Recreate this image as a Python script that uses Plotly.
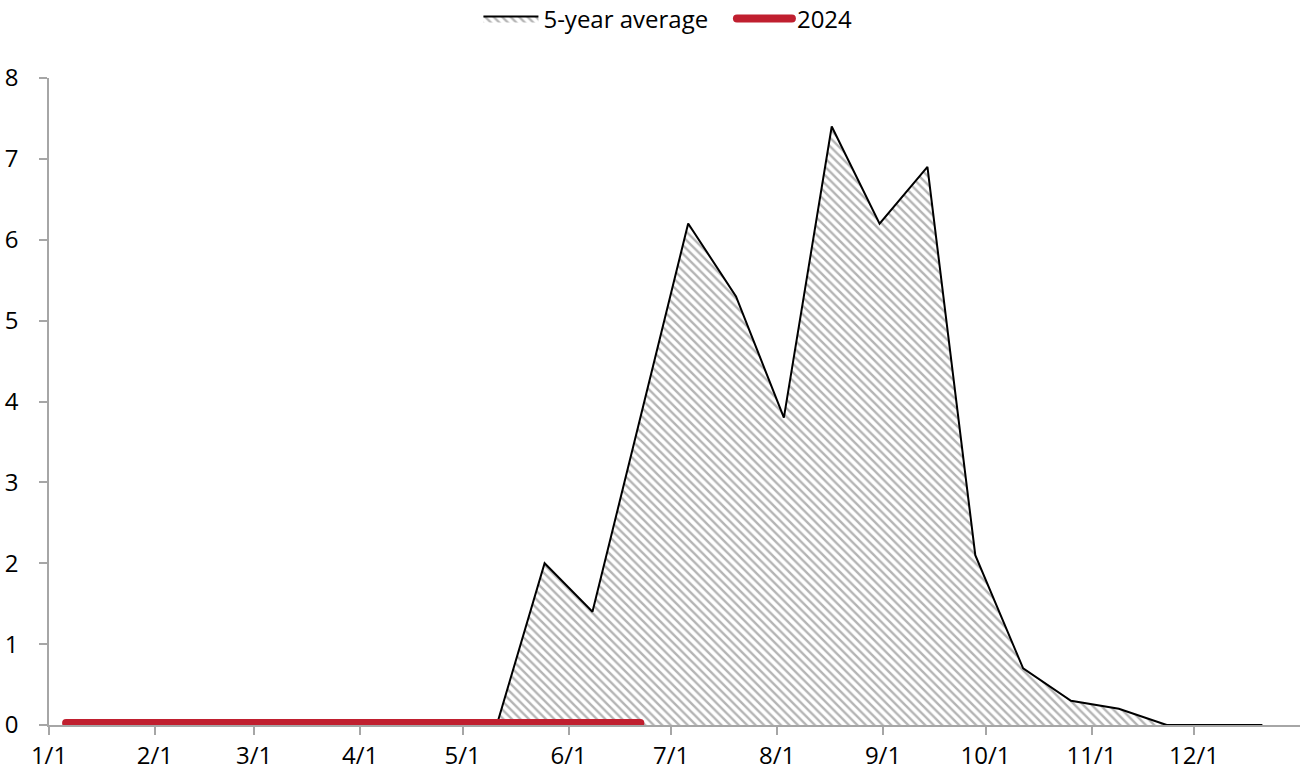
import plotly.graph_objects as go

# Data (biweekly)
dates = ["2024-01-06", "2024-01-20", "2024-02-03", "2024-02-17", "2024-03-02", "2024-03-16",
         "2024-03-30", "2024-04-13", "2024-04-27", "2024-05-11", "2024-05-25", "2024-06-08",
         "2024-06-22", "2024-07-06", "2024-07-20", "2024-08-03", "2024-08-17", "2024-08-31",
         "2024-09-14", "2024-09-28", "2024-10-12", "2024-10-26", "2024-11-09", "2024-11-23",
         "2024-12-07", "2024-12-21"]
avg5 = [0, 0, 0, 0, 0, 0, 0, 0, 0, 0, 2.0, 1.4, 3.8, 6.2, 5.3, 3.8, 7.4, 6.2, 6.9, 2.1,
        0.7, 0.3, 0.2, 0, 0, 0]
dates_2024 = dates[:13]
y2024 = [0] * 13

tick_vals = ["2024-01-01", "2024-02-01", "2024-03-01", "2024-04-01", "2024-05-01", "2024-06-01",
             "2024-07-01", "2024-08-01", "2024-09-01", "2024-10-01", "2024-11-01", "2024-12-01"]
tick_text = ["1/1", "2/1", "3/1", "4/1", "5/1", "6/1", "7/1", "8/1", "9/1", "10/1", "11/1", "12/1"]

fig = go.Figure()
fig.add_trace(go.Scatter(
    x=dates, y=avg5, name="5-year average\u00a0\u00a0\u00a0", mode="lines",
    line=dict(color="black", width=2),
    fill="tozeroy", fillcolor="white",
    fillpattern=dict(shape="\\", fgcolor="#6a6a6a", bgcolor="white", size=6, solidity=0.4),
))
fig.add_trace(go.Scatter(
    x=dates_2024, y=y2024, name="2024", mode="lines", cliponaxis=False,
    line=dict(color="#C01F2F", width=8),
))

fig.update_layout(
    width=1302, height=778,
    margin=dict(l=49, r=2, t=78, b=53),
    paper_bgcolor="white", plot_bgcolor="white",
    font=dict(family="Open Sans", size=24, color="black"),
    showlegend=True,
    legend=dict(orientation="h", x=0.513, xanchor="center", xref="container",
                y=1 - 19 / 778, yanchor="middle", yref="container",
                font=dict(size=24), itemwidth=55, traceorder="normal"),
    xaxis=dict(
        range=["2024-01-01", "2025-01-01"], tickmode="array", tickvals=tick_vals, ticktext=tick_text,
        showgrid=False, zeroline=False, showline=True, linecolor="#a6a6a6", linewidth=1.5,
        ticks="outside", ticklen=8, tickcolor="#a6a6a6", tickwidth=1.5,
    ),
    yaxis=dict(
        range=[0, 8], dtick=1, showgrid=False, zeroline=False, showline=True,
        linecolor="#a6a6a6", linewidth=1.5, ticks="outside", ticklen=8, tickcolor="#a6a6a6",
        tickwidth=1.5, ticklabelstandoff=16,
    ),
)

post = """
document.body.style.margin='0';
(function(){
  var gd = document.getElementById('{plot_id}');
  function isRed(p){
    var s = (p.style.stroke || '').replace(/\\s/g,'');
    return s.indexOf('192,31,47') >= 0 || s.toLowerCase() === '#c01f2f';
  }
  function fix(){
    document.querySelectorAll('.cartesianlayer [clip-path]').forEach(function(e){
      e.removeAttribute('clip-path');
    });
    document.querySelectorAll('.cartesianlayer path.js-line').forEach(function(p){
      if (isRed(p)) {
        p.style.strokeLinecap = 'round';
        p.setAttribute('transform', 'translate(0,-2)');
      }
    });
    document.querySelectorAll('.legend path.js-line').forEach(function(p){
      if (isRed(p)) { p.style.strokeLinecap = 'round'; }
    });
  }
  fix();
  if (gd && gd.on) { gd.on('plotly_afterplot', fix); }
  setTimeout(fix, 50);
})();
"""

fig.write_html("out.html", post_script=post, config={"displayModeBar": False})
